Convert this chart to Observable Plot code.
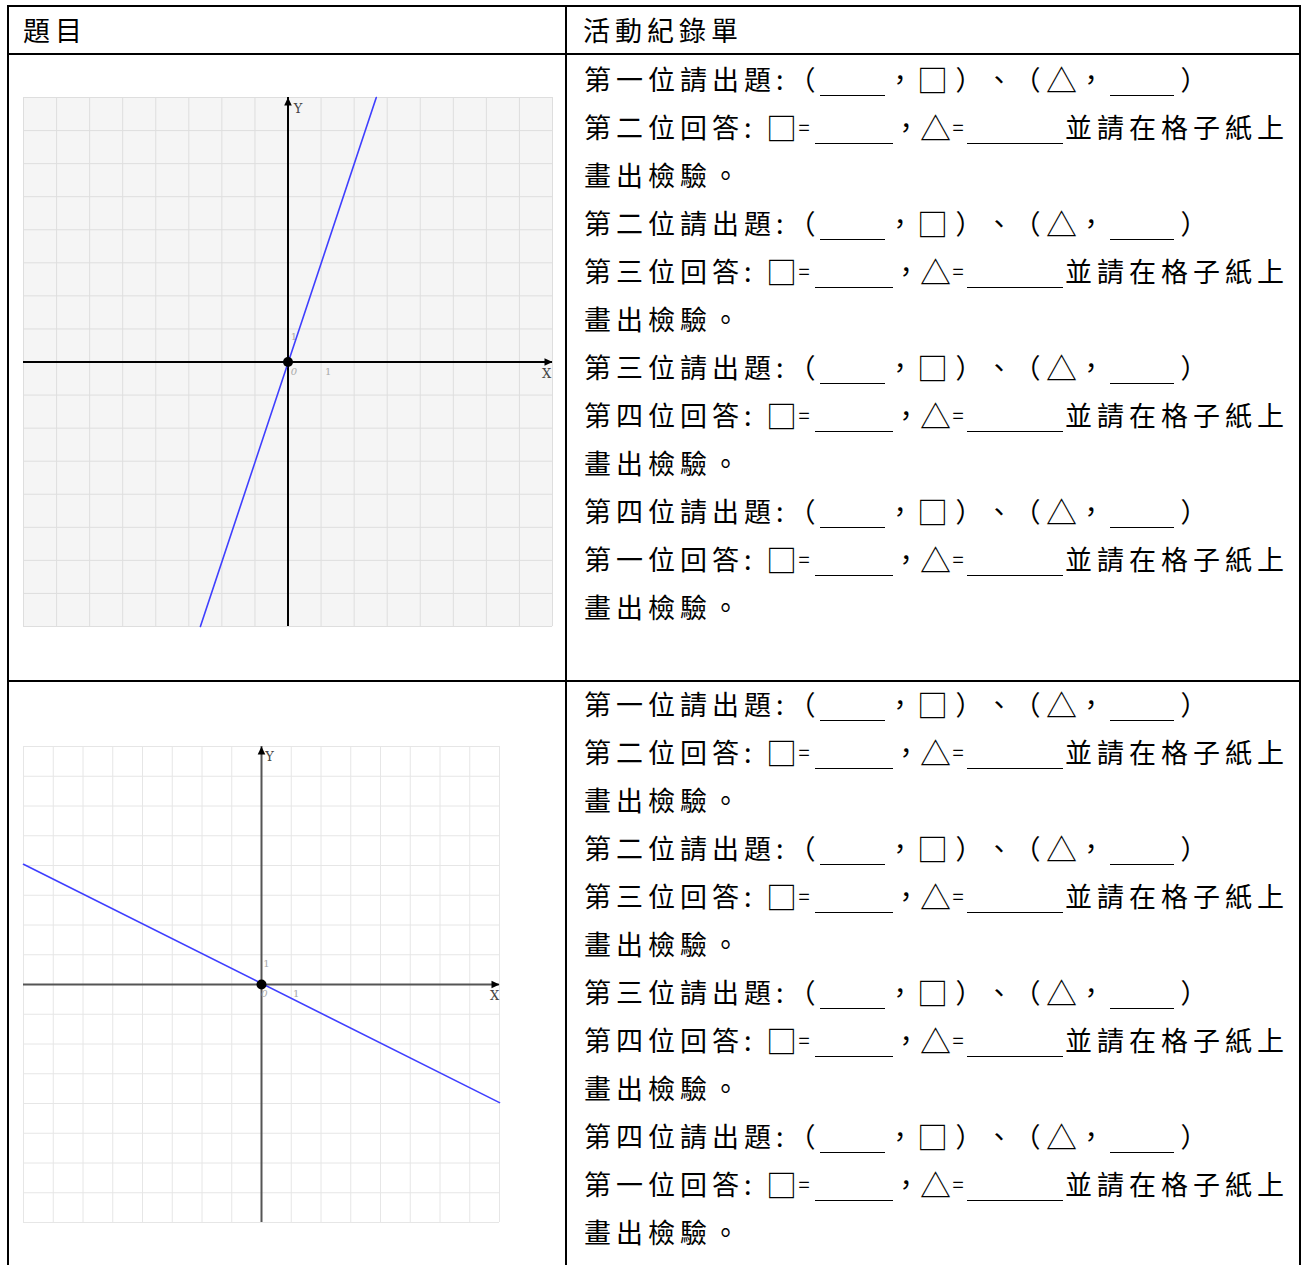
<!DOCTYPE html>
<html><head><meta charset="utf-8">
<script src="https://cdn.jsdelivr.net/npm/d3@7"></script>
<script src="https://cdn.jsdelivr.net/npm/@observablehq/plot@0.6"></script>
<style>
html,body{margin:0;padding:0;background:#fff;}
#page{position:relative;width:1301px;height:1265px;overflow:hidden;font-family:"Noto Sans CJK TC","Noto Sans CJK SC",sans-serif;color:#000;}
.b{position:absolute;background:#000;}
.t{position:absolute;font-size:27px;line-height:48px;letter-spacing:5px;white-space:nowrap;}
.t span{letter-spacing:0;}
.g{position:absolute;font-size:27px;line-height:48px;width:30px;text-align:center;white-space:nowrap;}
.u{position:absolute;height:0;border-top:1.5px solid #000;}
.gr{position:absolute;}
</style></head><body><div id="page"></div>
<script>
// ---- data ----
const headers = ["題目", "活動紀錄單"];
const askers = ["一", "二", "三", "四"];
const answerers = ["二", "三", "四", "一"];
const gridTicks = [-8, -7, -6, -5, -4, -3, -2, -1, 0, 1, 2, 3, 4, 5, 6, 7, 8];
const domain = [-8, 8];
const line1X = [-2.65, 2.67];
const line1Y = [-8, 8];
const line2X = [-8, 8];
const line2Y = [4.04, -3.97];
const axisNames = ["X", "Y"];
const tickText = ["0", "1"];

const page = document.getElementById("page");

function el(cls, css, txt) {
  const d = document.createElement("div");
  d.className = cls;
  Object.assign(d.style, css);
  if (txt != null) d.textContent = txt;
  page.appendChild(d);
  return d;
}
function hline(x1, x2, y) { el("b", {left: x1 + "px", top: (y - 1) + "px", width: (x2 - x1) + "px", height: "2px"}); }
function vline(x, y1, y2) { el("b", {left: (x - 1) + "px", top: y1 + "px", width: "2px", height: (y2 - y1) + "px"}); }
function text(s, x, c, tail) {
  const d = el("t", {left: x + "px", top: (c - 25) + "px"}, s);
  if (tail) { const sp = document.createElement("span"); sp.textContent = tail; d.appendChild(sp); }
}
function glyph(s, cx, c, size) {
  const st = {left: (cx - 15) + "px", top: (c - 25) + "px"};
  if (size) st.fontSize = size + "px";
  el("g", st, s);
}
function blank(x1, x2, c) { el("u", {left: x1 + "px", top: (c + 15) + "px", width: (x2 - x1) + "px"}); }

// table borders
hline(7, 1301, 6);
hline(7, 1301, 54);
hline(7, 1301, 681);
vline(8, 5, 1265);
vline(566, 5, 1265);
vline(1300, 5, 1265);

text(headers[0], 23, 31);
text(headers[1], 583, 31);

function blockLines(start) {
  for (let i = 0; i < 4; i++) {
    const cA = start + (i * 3) * 48, cB = cA + 48, cC = cA + 96;
    text(`第${askers[i]}位請出題:`, 584, cA);
    glyph("（", 802, cA);
    blank(820, 885, cA);
    glyph("，", 900, cA);
    glyph("□", 932, cA, 31);
    glyph("）", 969, cA);
    glyph("、", 999, cA);
    glyph("（", 1027, cA);
    glyph("△", 1061, cA, 31);
    glyph("，", 1091, cA);
    blank(1110, 1174, cA);
    glyph("）", 1194, cA);

    text(`第${answerers[i]}位回答`, 584, cB, ":");
    glyph("□", 781, cB, 31);
    glyph("=", 804, cB, 20);
    blank(815, 893, cB);
    glyph("，", 906, cB);
    glyph("△", 935, cB, 31);
    glyph("=", 958, cB, 20);
    blank(967, 1063, cB);
    text("並請在格子紙上", 1065, cB);

    text("畫出檢驗。", 584, cC);
  }
}
blockLines(80);
blockLines(705);

// arrowhead symbols
const arrowRight = {draw(ctx) { ctx.moveTo(0, 0); ctx.lineTo(-8, -3.8); ctx.lineTo(-8, 3.8); ctx.closePath(); }};
const arrowUp = {draw(ctx) { ctx.moveTo(0, 0); ctx.lineTo(-3.8, 8); ctx.lineTo(3.8, 8); ctx.closePath(); }};

function graph(o) {
  const pts = o.lx.map((x, i) => ({x, y: o.ly[i]}));
  const lab = {fontFamily: "DejaVu Serif, serif", fontSize: 13, fill: "#444"};
  const tk = {fontFamily: "DejaVu Serif, serif", fontSize: 10, fill: "#aaa"};
  return Plot.plot({
    width: o.w, height: o.w, margin: 12,
    x: {domain, axis: null}, y: {domain, axis: null},
    style: {background: "transparent", overflow: "visible"},
    marks: [
      Plot.frame({fill: o.bg, stroke: "none"}),
      Plot.ruleX(gridTicks, {stroke: o.grid, strokeWidth: 1, strokeOpacity: 1}),
      Plot.ruleY(gridTicks, {stroke: o.grid, strokeWidth: 1, strokeOpacity: 1}),
      Plot.text([tickText[1]], {x: 0, y: 1, text: d => d, dx: o.t.y1[0], dy: o.t.y1[1], ...tk}),
      Plot.ruleY([0], {stroke: o.axis, strokeWidth: 2}),
      Plot.ruleX([0], {stroke: o.axis, strokeWidth: 2}),
      Plot.dot([{x: domain[1], y: 0}], {x: "x", y: "y", symbol: arrowRight, r: 4, fill: "black", stroke: "none"}),
      Plot.dot([{x: 0, y: domain[1]}], {x: "x", y: "y", symbol: arrowUp, r: 4, fill: "black", stroke: "none"}),
      Plot.line(pts, {x: "x", y: "y", stroke: "#3f3fff", strokeWidth: 1.6}),
      Plot.dot([{x: 0, y: 0}], {x: "x", y: "y", r: 5, fill: "black", stroke: "none"}),
      Plot.text([axisNames[0]], {x: domain[1], y: 0, text: d => d, dx: o.t.X[0], dy: o.t.X[1], ...lab}),
      Plot.text([axisNames[1]], {x: 0, y: domain[1], text: d => d, dx: o.t.Y[0], dy: o.t.Y[1], ...lab}),
      Plot.text([tickText[0]], {x: 0, y: 0, text: d => d, dx: o.t.o[0], dy: o.t.o[1], fontStyle: "italic", ...tk}),
      Plot.text([tickText[1]], {x: 1, y: 0, text: d => d, dx: o.t.x1[0], dy: o.t.x1[1], ...tk})
    ]
  });
}

const g1 = graph({w: 553, lx: line1X, ly: line1Y, bg: "#f5f5f5", grid: "#dedede", axis: "#000",
  t: {X: [-6, 12], Y: [10, 11], o: [6, 10], x1: [7, 10], y1: [6, 8]}});
g1.classList.add("gr");
g1.style.left = "11px"; g1.style.top = "85px";
page.appendChild(g1);

const g2 = graph({w: 500, lx: line2X, ly: line2Y, bg: "#ffffff", grid: "#e6e6e6", axis: "#555",
  t: {X: [-5, 11], Y: [8, 10], o: [3, 9], x1: [5, 9], y1: [5, 9]}});
g2.classList.add("gr");
g2.style.left = "11px"; g2.style.top = "734px";
page.appendChild(g2);
</script></body></html>
